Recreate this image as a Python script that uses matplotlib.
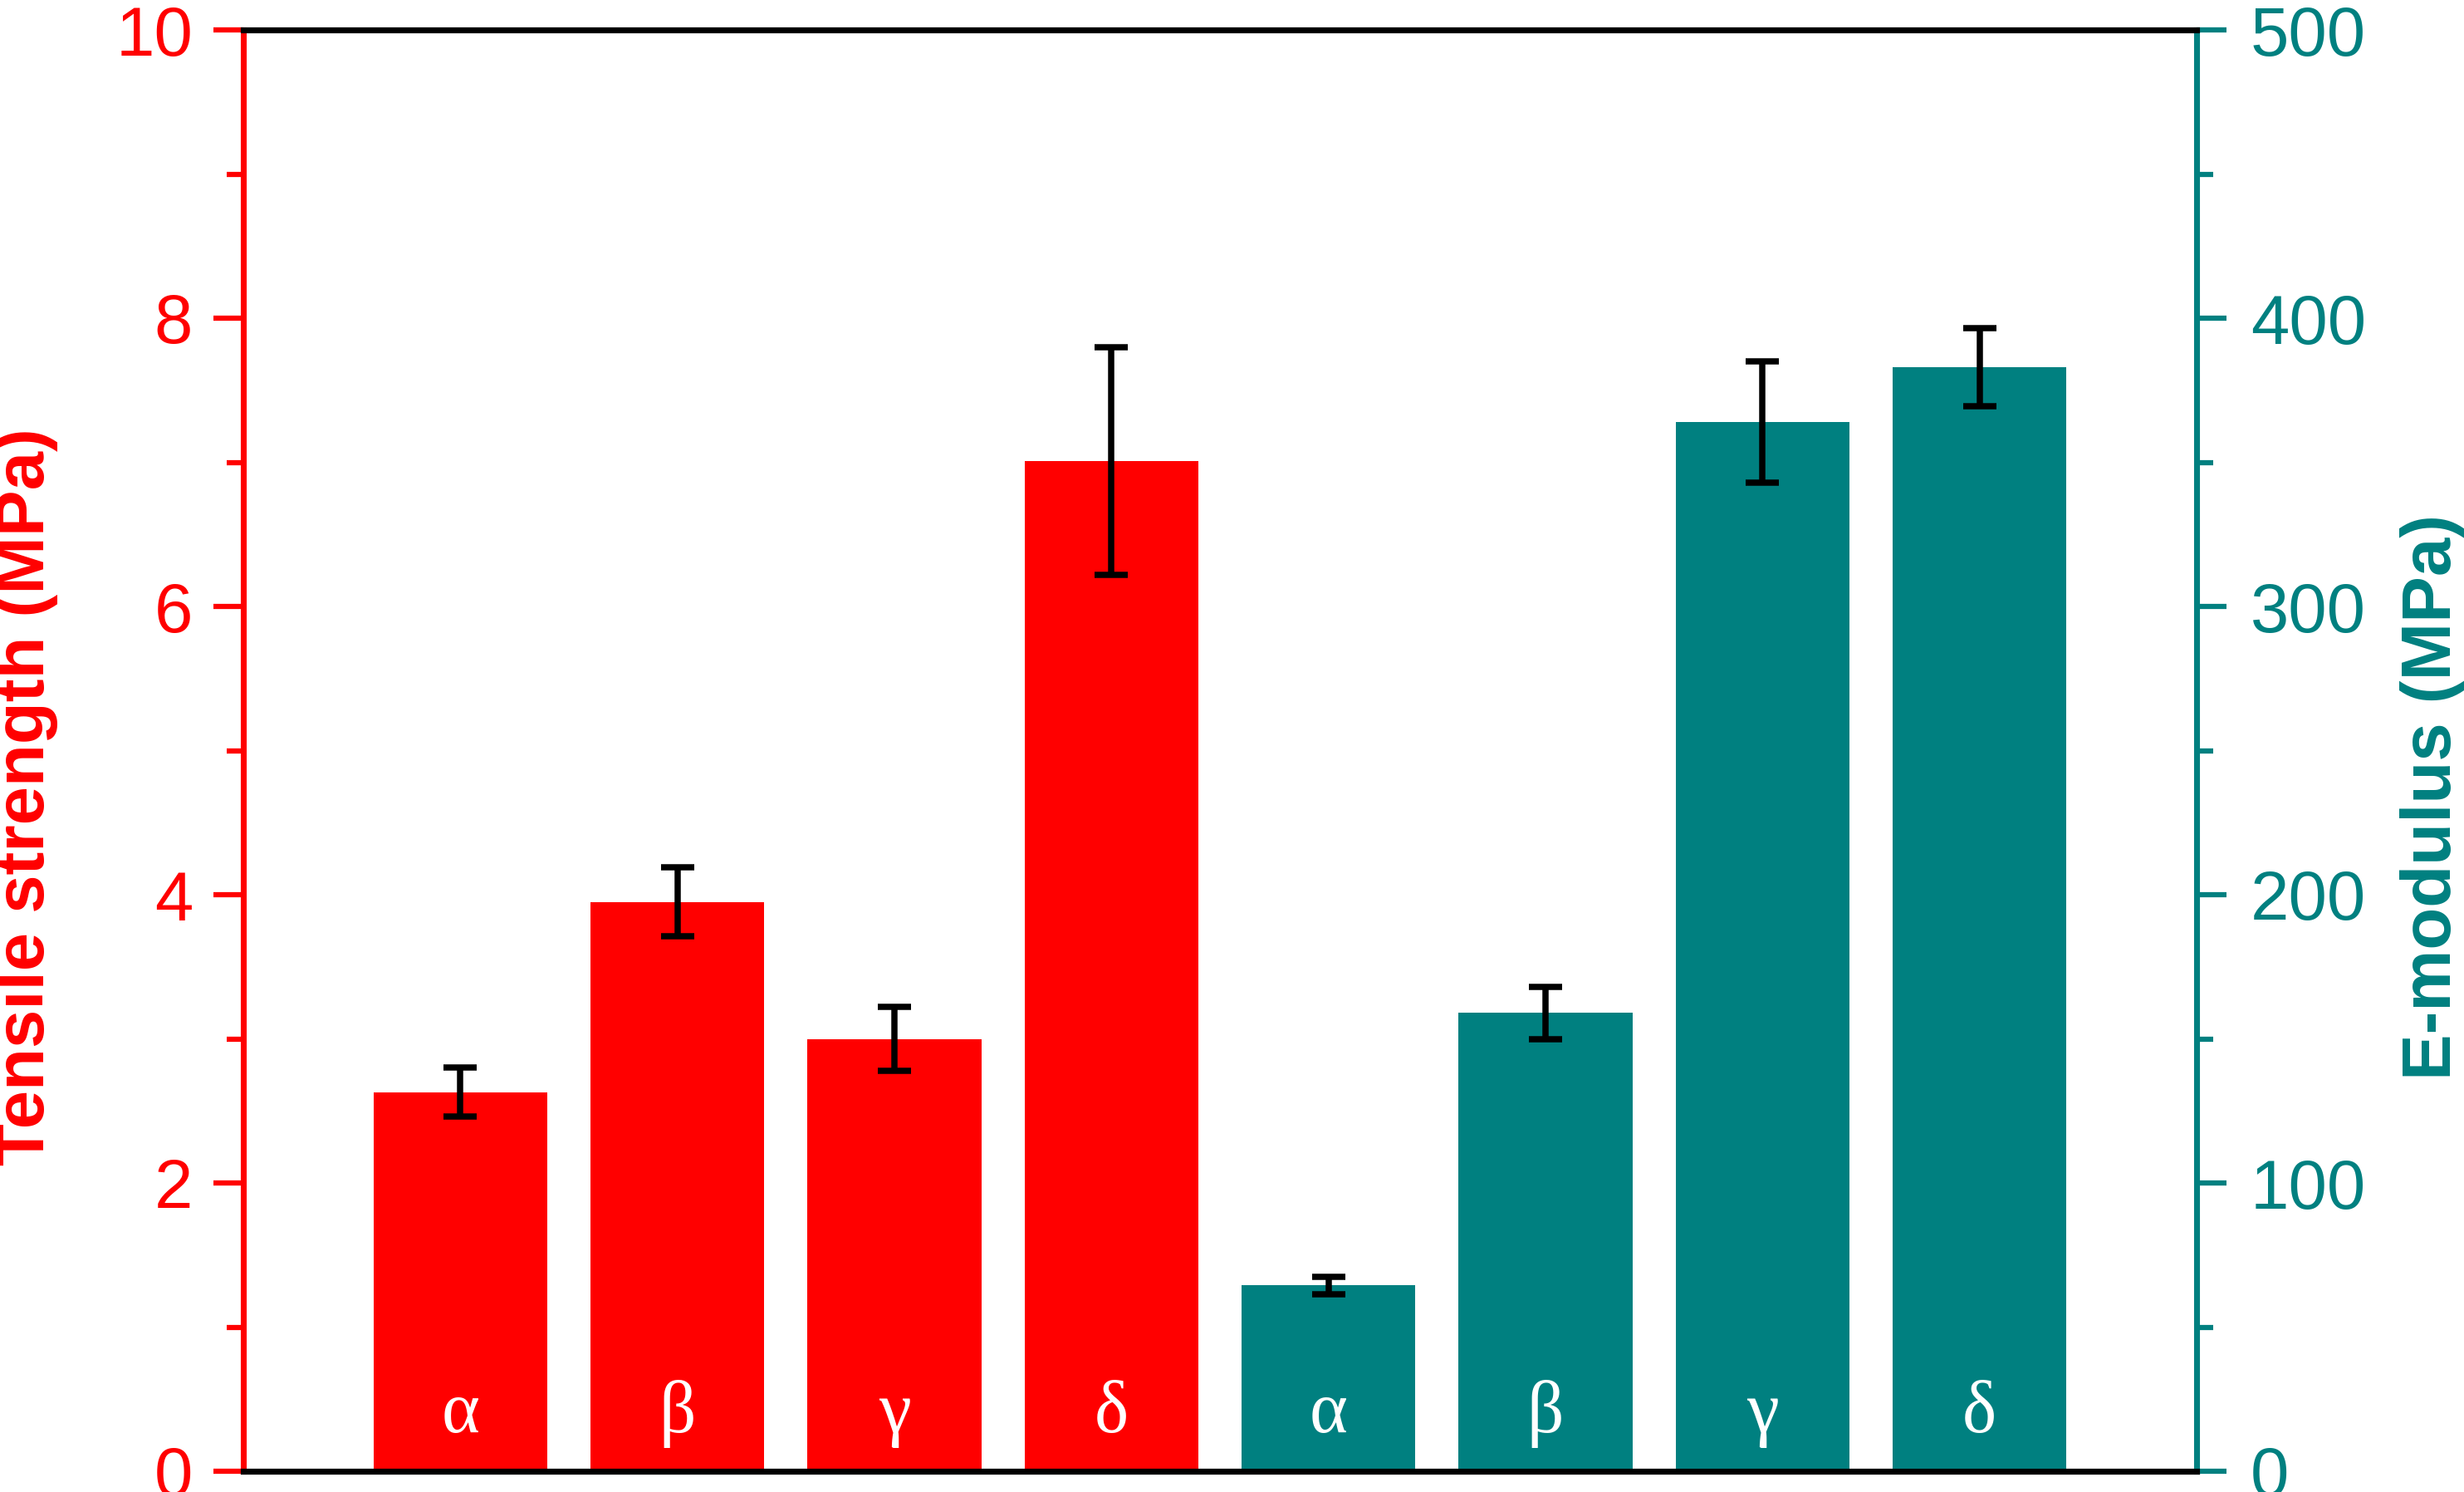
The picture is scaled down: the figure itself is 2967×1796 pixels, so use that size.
import numpy as np
import matplotlib
matplotlib.use("Agg")
import matplotlib.pyplot as plt
from matplotlib.ticker import MultipleLocator

plt.rcParams['font.family'] = ['Liberation Sans', 'DejaVu Sans']

# data
samples = ['α', 'β', 'γ', 'δ']
tensile = [2.63, 3.95, 3.00, 7.01]          # MPa
tensile_err = [0.17, 0.24, 0.22, 0.79]
modulus = [64.5, 159, 364, 383]              # MPa
modulus_err = [3, 9, 21, 13.5]

red = '#FF0000'
teal = '#008080'

fig = plt.figure(figsize=(2967 / 300, 1796 / 300), dpi=300)
ax = fig.add_axes([293 / 2967, 25 / 1796, 2352 / 2967, 1735 / 1796])
ax2 = ax.twinx()

x_red = np.arange(1, 5)
x_teal = np.arange(5, 9)

err_kw = dict(ecolor='black', elinewidth=1.8, capsize=4.8, capthick=1.8)
ax.bar(x_red, tensile, width=0.8, color=red, yerr=tensile_err, error_kw=err_kw)
ax2.bar(x_teal, modulus, width=0.8, color=teal, yerr=modulus_err, error_kw=err_kw)

# sample letters inside the bars
for xs in (x_red, x_teal):
    for xi, s in zip(xs, samples):
        ax2.text(xi, 0.027, s, transform=ax2.get_xaxis_transform(), color='white',
                 ha='center', va='baseline', fontsize=21, family='Liberation Serif')

ax.set_xlim(0, 9)
ax.set_ylim(0, 10)
ax2.set_ylim(0, 500)
ax.set_xticks([])

ax.yaxis.set_major_locator(MultipleLocator(2))
ax.yaxis.set_minor_locator(MultipleLocator(1))
ax2.yaxis.set_major_locator(MultipleLocator(100))
ax2.yaxis.set_minor_locator(MultipleLocator(50))

lw = 1.7
for a in (ax, ax2):
    for side in ('top', 'bottom'):
        a.spines[side].set_color('black')
        a.spines[side].set_linewidth(lw)
ax.spines['left'].set_color(red)
ax.spines['left'].set_linewidth(lw)
ax.spines['right'].set_visible(False)
ax2.spines['left'].set_visible(False)
ax2.spines['right'].set_color(teal)
ax2.spines['right'].set_linewidth(lw)

ax.tick_params(axis='y', which='major', length=8.6, width=1.5, colors=red,
               labelsize=20, pad=6)
ax.tick_params(axis='y', which='minor', length=4.8, width=1.5, colors=red)
ax2.tick_params(axis='y', which='major', length=8.6, width=1.5, colors=teal,
                labelsize=20, pad=7)
ax2.tick_params(axis='y', which='minor', length=4.8, width=1.5, colors=teal)

ax.set_ylabel('Tensile strength (MPa)', color=red, fontsize=20, fontweight='bold')
ax2.set_ylabel('E-modulus (MPa)', color=teal, fontsize=20, fontweight='bold',
               rotation=90)
ax.yaxis.set_label_coords(-0.095, 0.468)
ax2.yaxis.set_label_coords(1.104, 0.468)

fig.savefig('out.png', dpi=300)
